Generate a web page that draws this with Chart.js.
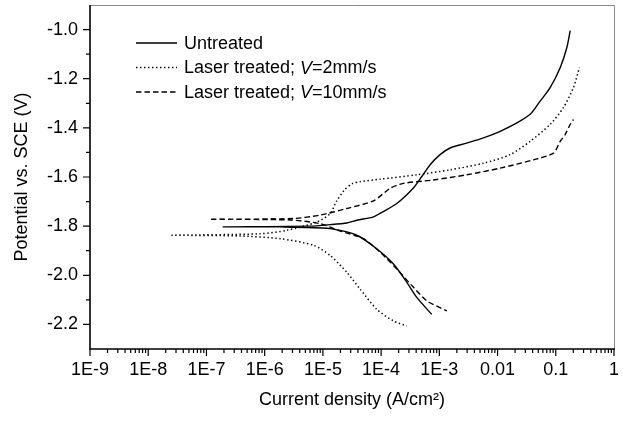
<!DOCTYPE html>
<html><head><meta charset="utf-8">
<script src="https://cdn.jsdelivr.net/npm/chart.js@4.4.0/dist/chart.umd.min.js"></script>
<style>html,body{margin:0;padding:0;background:#fff;}</style>
</head><body>
<canvas id="c" width="623" height="423"></canvas>
<script>
// ---- data (current density A/cm2, potential V vs SCE) ----
const seriesNames = ["Untreated", "Laser treated; V=2mm/s", "Laser treated; V=10mm/s"];
const legendParts = [["Untreated"], ["Laser treated; ", "V", "=2mm/s"], ["Laser treated; ", "V", "=10mm/s"]];

const untreatedAnodicI = [1.9e-7, 6.0e-6, 1.33e-5, 2.58e-5, 3.82e-5, 7.4e-5, 9.6e-5, 1.86e-4, 3.55e-4, 5.0e-4, 6.95e-4, 1.03e-3, 1.53e-3, 2.96e-3, 5.73e-3, 0.0111, 0.0215, 0.0363, 0.054, 0.080, 0.119, 0.155, 0.177];
const untreatedAnodicE = [-1.803, -1.800, -1.794, -1.787, -1.776, -1.762, -1.748, -1.708, -1.646, -1.598, -1.550, -1.509, -1.482, -1.462, -1.441, -1.414, -1.380, -1.345, -1.291, -1.236, -1.155, -1.073, -1.004];
const untreatedCathodicI = [1.9e-7, 1.84e-6, 1.33e-5, 3.82e-5, 8.4e-5, 1.63e-4, 2.77e-4, 4.1e-4, 7.4e-4];
const untreatedCathodicE = [-1.803, -1.803, -1.810, -1.837, -1.892, -1.954, -2.029, -2.090, -2.159];

const laser2AnodicI = [2.5e-8, 8.3e-7, 2.4e-6, 7.9e-6, 1.33e-5, 1.7e-5, 2.3e-5, 3.2e-5, 4.35e-5, 9.6e-5, 4.1e-4, 1.53e-3, 5.73e-3, 0.0164, 0.0363, 0.080, 0.135, 0.201, 0.255];
const laser2AnodicE = [-1.837, -1.831, -1.817, -1.783, -1.749, -1.700, -1.655, -1.627, -1.619, -1.609, -1.591, -1.571, -1.544, -1.509, -1.455, -1.386, -1.318, -1.236, -1.155];
const laser2CathodicI = [2.5e-8, 3.8e-7, 1.84e-6, 6.9e-6, 1.33e-5, 2.58e-5, 4.35e-5, 8.4e-5, 1.63e-4, 2.77e-4];
const laser2CathodicE = [-1.837, -1.840, -1.851, -1.878, -1.919, -1.988, -2.056, -2.138, -2.186, -2.206];

const laser10AnodicI = [1.2e-7, 3.1e-6, 8.95e-6, 2.58e-5, 7.4e-5, 1.43e-4, 2.41e-4, 7.93e-4, 2.96e-3, 0.0111, 0.0414, 0.0912, 0.119, 0.145, 0.177, 0.201];
const laser10AnodicE = [-1.772, -1.769, -1.755, -1.728, -1.697, -1.646, -1.626, -1.612, -1.591, -1.564, -1.530, -1.503, -1.455, -1.427, -1.386, -1.366];
const laser10CathodicI = [1.2e-7, 2.7e-6, 8.95e-6, 1.98e-5, 4.97e-5, 9.6e-5, 1.86e-4, 3.59e-4, 6.1e-4, 1.35e-3];
const laser10CathodicE = [-1.772, -1.775, -1.790, -1.820, -1.851, -1.906, -1.974, -2.049, -2.104, -2.145];

const xMajorValues = [1e-9, 1e-8, 1e-7, 1e-6, 1e-5, 1e-4, 1e-3, 1e-2, 1e-1, 1];
const xTickLabels = ["1E-9", "1E-8", "1E-7", "1E-6", "1E-5", "1E-4", "1E-3", "0.01", "0.1", "1"];
const yMajorValues = [-2.2, -2.0, -1.8, -1.6, -1.4, -1.2, -1.0];
const yTickLabels = ["-2.2", "-2.0", "-1.8", "-1.6", "-1.4", "-1.2", "-1.0"];
const yMinorValues = [-2.1, -1.9, -1.7, -1.5, -1.3, -1.1];

// ---- build datasets ----
function branchPoints(ai, ae, ci, ce) {
  const pts = ai.map((x, k) => ({x: x, y: ae[k]}));
  pts.push({x: ai[0], y: null});
  ci.forEach((x, k) => pts.push({x: x, y: ce[k]}));
  return pts;
}
const styles = [
  {borderDash: [], borderWidth: 1.4},
  {borderDash: [1.4, 2.6], borderWidth: 1.5},
  {borderDash: [5.5, 3], borderWidth: 1.4}
];
const datasets = [
  branchPoints(untreatedAnodicI, untreatedAnodicE, untreatedCathodicI, untreatedCathodicE),
  branchPoints(laser2AnodicI, laser2AnodicE, laser2CathodicI, laser2CathodicE),
  branchPoints(laser10AnodicI, laser10AnodicE, laser10CathodicI, laser10CathodicE)
].map((pts, k) => ({
  label: seriesNames[k], data: pts, showLine: true, spanGaps: false,
  borderColor: '#000', backgroundColor: '#000', pointRadius: 0, tension: 0.25,
  borderDash: styles[k].borderDash, borderWidth: styles[k].borderWidth
}));

const FONT = '"Liberation Sans", Arial, sans-serif';
Chart.defaults.color = '#000';
Chart.defaults.font.family = FONT;

const framePlugin = {
  id: 'frame',
  afterDraw(chart) {
    const ctx = chart.ctx, a = chart.chartArea;
    const xs = chart.scales.x, ys = chart.scales.y;
    ctx.save();
    ctx.strokeStyle = '#8a8a8a'; ctx.lineWidth = 1;
    ctx.beginPath();
    ctx.moveTo(a.left, a.top + 0.5); ctx.lineTo(a.right + 0.5, a.top + 0.5); ctx.lineTo(a.right + 0.5, a.bottom);
    ctx.stroke();
    ctx.strokeStyle = '#000'; ctx.lineWidth = 1.6;
    ctx.beginPath();
    ctx.moveTo(a.left, a.top); ctx.lineTo(a.left, a.bottom); ctx.lineTo(a.right + 1, a.bottom);
    ctx.stroke();
    ctx.lineWidth = 1.2;
    ctx.beginPath();
    yMajorValues.forEach(v => { const p = ys.getPixelForValue(v); ctx.moveTo(a.left, p); ctx.lineTo(a.left - 7, p); });
    yMinorValues.forEach(v => { const p = ys.getPixelForValue(v); ctx.moveTo(a.left, p); ctx.lineTo(a.left - 4, p); });
    xs.ticks.forEach(t => {
      const p = xs.getPixelForValue(t.value);
      const major = xMajorValues.some(m => Math.abs(Math.log10(m) - Math.log10(t.value)) < 1e-6);
      ctx.moveTo(p, a.bottom); ctx.lineTo(p, a.bottom + (major ? 7 : 4));
    });
    ctx.stroke();
    // legend
    const lx0 = a.left + 46, lx1 = a.left + 87, tx = a.left + 94;
    const rows = [a.top + 38, a.top + 62.5, a.top + 87];
    chart.data.datasets.forEach((ds, k) => {
      ctx.strokeStyle = '#000'; ctx.lineWidth = ds.borderWidth;
      ctx.setLineDash(ds.borderDash);
      ctx.beginPath(); ctx.moveTo(lx0, rows[k]); ctx.lineTo(lx1, rows[k]); ctx.stroke();
      ctx.setLineDash([]);
      let x = tx;
      ctx.fillStyle = '#000'; ctx.textBaseline = 'middle'; ctx.textAlign = 'left';
      legendParts[k].forEach((part, j) => {
        ctx.font = (j % 2 === 1 ? 'italic ' : '') + '18px ' + FONT;
        ctx.fillText(part, x, rows[k] + 1);
        x += ctx.measureText(part).width;
      });
    });
    ctx.restore();
  }
};

new Chart(document.getElementById('c'), {
  type: 'scatter',
  data: {datasets: datasets},
  options: {
    responsive: false, animation: false, devicePixelRatio: 1,
    layout: {padding: {top: 5, right: 9, left: 0, bottom: 0}},
    plugins: {legend: {display: false}, tooltip: {enabled: false}},
    scales: {
      x: {
        type: 'logarithmic', min: 1e-9, max: 1,
        afterFit(s) { s.height = 74; s.paddingLeft = 0; s.paddingRight = 0; },
        afterBuildTicks(s) {
          const t = [];
          xMajorValues.forEach((m, i) => {
            t.push({value: m});
            if (i < xMajorValues.length - 1) for (let k = 2; k <= 9; k++) t.push({value: m * k});
          });
          s.ticks = t;
        },
        grid: {display: false, drawTicks: false},
        border: {display: false},
        ticks: {
          autoSkip: false, maxRotation: 0, padding: 10,
          font: {size: 18, family: FONT}, color: '#000',
          callback(v) {
            const i = xMajorValues.findIndex(m => Math.abs(Math.log10(m) - Math.log10(v)) < 1e-6);
            return i >= 0 ? xTickLabels[i] : '';
          }
        },
        title: {display: true, text: 'Current density (A/cm\u00B2)', font: {size: 18, family: FONT}, color: '#000', padding: {top: 0, bottom: 12}}
      },
      y: {
        min: -2.3, max: -0.9,
        afterFit(s) { s.width = 90; s.paddingTop = 0; s.paddingBottom = 0; },
        afterBuildTicks(s) { s.ticks = yMajorValues.map(v => ({value: v})); },
        grid: {display: false, drawTicks: false},
        border: {display: false},
        ticks: {
          autoSkip: false, padding: 12,
          font: {size: 18, family: FONT}, color: '#000',
          callback(v) {
            const i = yMajorValues.findIndex(m => Math.abs(m - v) < 1e-6);
            return i >= 0 ? yTickLabels[i] : '';
          }
        },
        title: {display: true, text: 'Potential vs. SCE (V)', font: {size: 18, family: FONT}, color: '#000', padding: {top: 11, bottom: 0}}
      }
    }
  },
  plugins: [framePlugin]
});
</script>
</body></html>
